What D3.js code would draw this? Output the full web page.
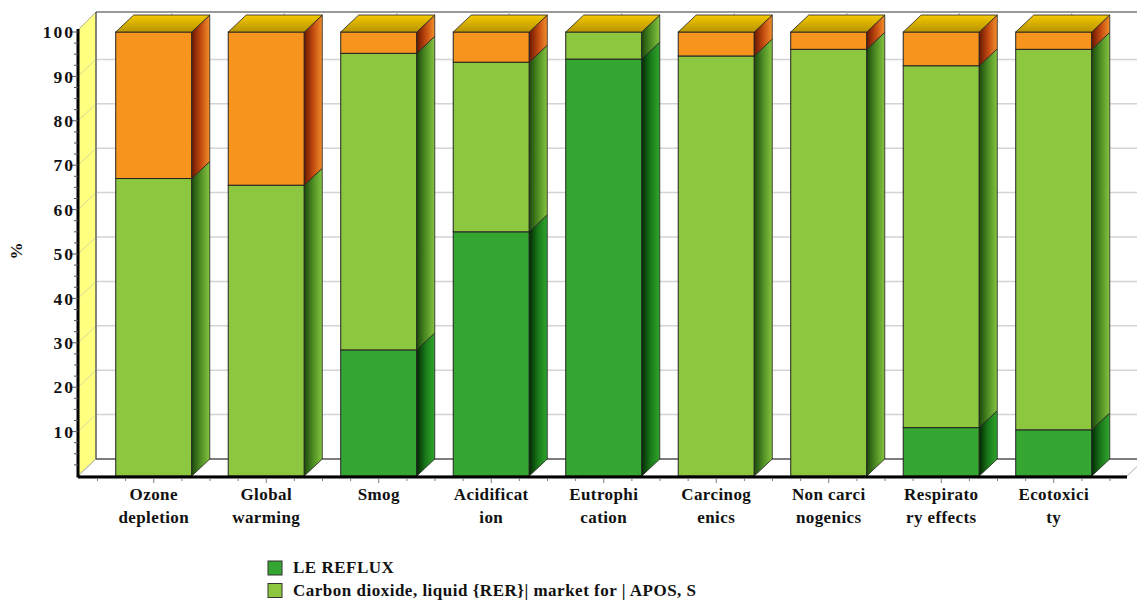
<!DOCTYPE html>
<html><head><meta charset="utf-8">
<script src="https://cdn.jsdelivr.net/npm/d3@7"></script>
<style>
html,body{margin:0;padding:0;background:#fff;}
svg text{font-family:"Liberation Serif","Times New Roman",serif;font-weight:bold;fill:#111;}
</style></head>
<body>
<svg id="chart" width="1137" height="600"></svg>
<script>
const categories = ["Ozone depletion","Global warming","Smog","Acidification","Eutrophication","Carcinogenics","Non carcinogenics","Respiratory effects","Ecotoxicity"];
const categoryLines = [["Ozone","depletion"],["Global","warming"],["Smog"],["Acidificat","ion"],["Eutrophi","cation"],["Carcinog","enics"],["Non carci","nogenics"],["Respirato","ry effects"],["Ecotoxici","ty"]];
const seriesNames = ["LE REFLUX","Carbon dioxide, liquid {RER}| market for | APOS, S","Other"];
const leReflux = [0, 0, 28.4, 55, 93.9, 0, 0, 10.9, 10.4];
const carbonDioxide = [67, 65.5, 66.8, 38.2, 6.1, 94.6, 96.1, 81.5, 85.7];
const other = [33, 34.5, 4.8, 6.8, 0, 5.4, 3.9, 7.6, 3.9];
const yTicks = [10,20,30,40,50,60,70,80,90,100];

const svg = d3.select("#chart");
const DX = 18, DY = 17;
const x0 = 78, x1 = 1127, yBase = 476;
const y = d3.scaleLinear().domain([0,100]).range([yBase, 32]);
const x = d3.scaleBand().domain(categories).range([97.5, 1110]).paddingInner(0.324).paddingOuter(0.162);

const defs = svg.append("defs");
function hGrad(id, stops){
  const g = defs.append("linearGradient").attr("id",id).attr("x1","0").attr("x2","1").attr("y1","0").attr("y2","0");
  stops.forEach(s=>g.append("stop").attr("offset",s[0]).attr("stop-color",s[1]));
}
hGrad("sideDark",[[0,"#022a02"],[0.5,"#1a7a1a"],[1,"#30a52c"]]);
hGrad("sideLight",[[0,"#1c4a0c"],[0.5,"#4f8f24"],[1,"#86c440"]]);
hGrad("sideOrange",[[0,"#6a1800"],[0.5,"#c24a10"],[1,"#f4902a"]]);
const tg = defs.append("linearGradient").attr("id","topGold").attr("x1","0").attr("x2","0").attr("y1","0").attr("y2","1");
tg.append("stop").attr("offset",0).attr("stop-color","#f4c800");
tg.append("stop").attr("offset",1).attr("stop-color","#b89400");

const series = [
  {name:seriesNames[0], values:leReflux, front:"#35a632", side:"url(#sideDark)"},
  {name:seriesNames[1], values:carbonDioxide, front:"#8dc63f", side:"url(#sideLight)"},
  {name:seriesNames[2], values:other, front:"#f7941e", side:"url(#sideOrange)"}
];

// back wall
const topY = 12;
svg.append("rect").attr("x",x0+DX).attr("y",topY).attr("width",1137-(x0+DX)).attr("height",yBase-DY-topY).attr("fill","#fff");
// left wall
svg.append("polygon").attr("points",[[x0,yBase],[x0,topY+DY+1],[x0+DX,topY],[x0+DX,yBase-DY]].join(" "))
  .attr("fill","#ffff80").attr("stroke","#999").attr("stroke-width",0.8);
// gridlines
yTicks.filter(v=>v<100).forEach(v=>{
  svg.append("line").attr("x1",x0+DX).attr("x2",1137).attr("y1",y(v)-DY).attr("y2",y(v)-DY).attr("stroke","#d4d4d4").attr("stroke-width",1.5);
  svg.append("line").attr("x1",x0).attr("x2",x0+DX).attr("y1",y(v)).attr("y2",y(v)-DY).attr("stroke","#d8d8a0").attr("stroke-width",1);
});
// top border
svg.append("line").attr("x1",x0+DX).attr("x2",1137).attr("y1",topY).attr("y2",topY).attr("stroke","#999").attr("stroke-width",2);
categories.forEach(c=>{
  const cx = x(c)+x.bandwidth()/2+DX;
  svg.append("line").attr("x1",cx).attr("x2",cx).attr("y1",topY).attr("y2",topY+4).attr("stroke","#aaa").attr("stroke-width",1);
});
svg.append("line").attr("x1",x0+DX).attr("x2",x0+DX).attr("y1",topY).attr("y2",yBase-DY).attr("stroke","#333").attr("stroke-width",1);
// floor
svg.append("polygon").attr("points",[[x0,yBase],[x1,yBase],[x1+DX,yBase-DY],[x0+DX,yBase-DY]].join(" "))
  .attr("fill","#fff").attr("stroke","#999").attr("stroke-width",0.8);
svg.append("line").attr("x1",x0+DX).attr("x2",1137).attr("y1",yBase-DY).attr("y2",yBase-DY).attr("stroke","#222").attr("stroke-width",1);

// bars
const stack = d3.stack().keys([0,1,2]).value((d,k)=>series[k].values[d])(d3.range(categories.length));
const gBars = svg.append("g");
categories.forEach((c,i)=>{
  const bx = x(c), bw = x.bandwidth();
  let topmost = null;
  stack.forEach((layer,k)=>{
    const v0 = layer[i][0], v1 = layer[i][1];
    if (v1 - v0 <= 0) return;
    const yt = y(v1), yb = y(v0);
    gBars.append("rect").attr("x",bx).attr("y",yt).attr("width",bw).attr("height",yb-yt)
      .attr("fill",series[k].front).attr("stroke","#222").attr("stroke-width",1);
    gBars.append("polygon").attr("points",[[bx+bw,yb],[bx+bw,yt],[bx+bw+DX,yt-DY],[bx+bw+DX,yb-DY]].join(" "))
      .attr("fill",series[k].side).attr("stroke","#222").attr("stroke-width",0.8);
    topmost = yt;
  });
  gBars.append("polygon").attr("points",[[bx,topmost],[bx+DX,topmost-DY],[bx+bw+DX,topmost-DY],[bx+bw,topmost]].join(" "))
    .attr("fill","url(#topGold)").attr("stroke","#222").attr("stroke-width",0.8);
});

// y axis
svg.append("line").attr("x1",x0).attr("x2",x0).attr("y1",29).attr("y2",yBase+1.5).attr("stroke","#000").attr("stroke-width",3);
d3.range(2.5,100.1,2.5).forEach(v=>{
  const major = (v%10===0);
  svg.append("line").attr("x1",x0-(major?6:4)).attr("x2",x0).attr("y1",y(v)).attr("y2",y(v)).attr("stroke","#555").attr("stroke-width",1);
});
svg.append("g").selectAll("text").data(yTicks).join("text")
  .attr("x",75).attr("y",d=>y(d)).attr("dy","0.35em").attr("text-anchor","end")
  .attr("font-size",17.5).attr("letter-spacing","2px").text(d=>d);
svg.append("text").attr("transform","translate(22,251) rotate(-90)").attr("text-anchor","middle")
  .attr("font-size",17).text("%");

// x axis
svg.append("line").attr("x1",x0).attr("x2",x1).attr("y1",yBase+1).attr("y2",yBase+1).attr("stroke","#000").attr("stroke-width",3);
const step = x.step();
d3.range(0, categories.length*4+1).forEach(j=>{
  const tx = x(categories[0]) - x.paddingOuter()*step + j*step/4;
  if (tx > x1) return;
  svg.append("line").attr("x1",tx).attr("x2",tx).attr("y1",yBase+2).attr("y2",yBase+(j%4===2?7:5)).attr("stroke","#777").attr("stroke-width",1);
});
const xl = svg.append("g");
categories.forEach((c,i)=>{
  const cx = x(c)+x.bandwidth()/2;
  categoryLines[i].forEach((ln,li)=>{
    xl.append("text").attr("x",cx).attr("y",500+li*23).attr("text-anchor","middle")
      .attr("font-size",17).attr("letter-spacing","0.4px").text(ln);
  });
});

// legend
const legendItems = series.slice(0,2);
legendItems.forEach((s,i)=>{
  svg.append("rect").attr("x",268).attr("y",561+i*22.5).attr("width",14).attr("height",14)
    .attr("fill",s.front).attr("stroke","#333").attr("stroke-width",1);
  svg.append("text").attr("x",293).attr("y",573+i*22.5).attr("font-size",17)
    .attr("letter-spacing","0.5px").text(s.name);
});
</script>
</body></html>
